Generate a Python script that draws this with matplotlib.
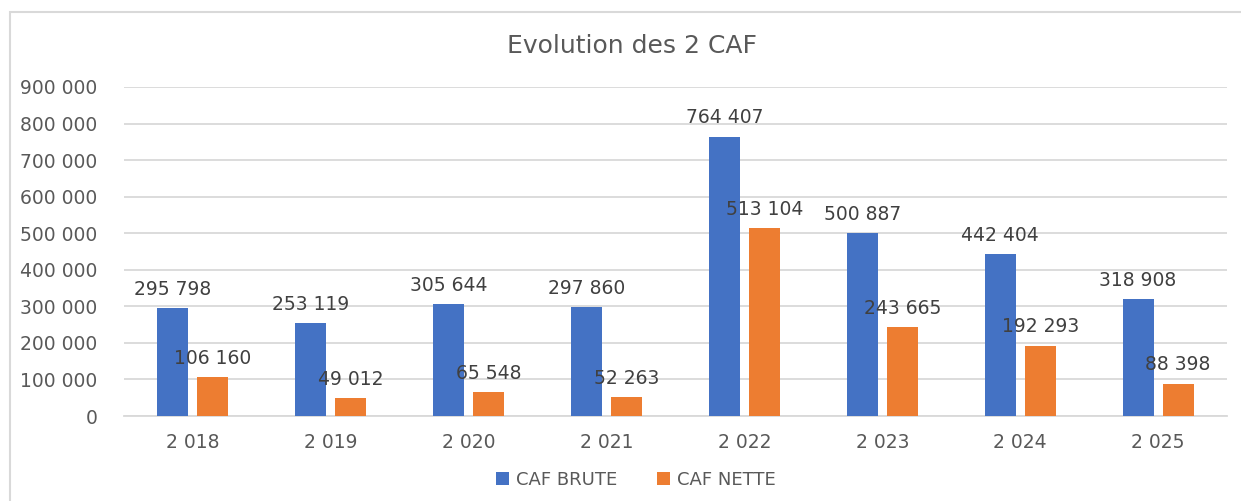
import matplotlib
matplotlib.use("Agg")
import matplotlib.pyplot as plt
from matplotlib.patches import Rectangle
import numpy as np

years = ["2 018", "2 019", "2 020", "2 021", "2 022", "2 023", "2 024", "2 025"]
caf_brute = [295798, 253119, 305644, 297860, 764407, 500887, 442404, 318908]
caf_nette = [106160, 49012, 65548, 52263, 513104, 243665, 192293, 88398]
yticks = list(range(0, 900001, 100000))

BLUE = "#4472C4"
ORANGE = "#ED7D31"
GRID = "#D9D9D9"
TXT = "#595959"
LBL = "#404040"

plt.rcParams['font.family'] = ['DejaVu Sans']

def fmt(v):
    return f"{v:,}".replace(",", " ")

fig = plt.figure(figsize=(12.41, 5.01), dpi=100)
ax = fig.add_axes([124/1241, 1-416/501, (1227-124)/1241, (416-87)/501])

x = np.arange(len(years))
w = 0.225
off = 0.145
b1 = ax.bar(x - off, caf_brute, width=w, color=BLUE, label="CAF BRUTE", zorder=3)
b2 = ax.bar(x + off, caf_nette, width=w, color=ORANGE, label="CAF NETTE", zorder=3)

for bars, vals in ((b1, caf_brute), (b2, caf_nette)):
    for r, v in zip(bars, vals):
        ax.annotate(fmt(v), (r.get_x() + r.get_width()/2, v), xytext=(0, 13.5),
                    textcoords="offset points", ha="center", va="center",
                    fontsize=13.5, color=LBL, zorder=4)

ax.set_xlim(-0.5, 7.5)
ax.set_ylim(0, 900000)
ax.set_yticks(yticks)
ax.set_yticklabels([fmt(v) for v in yticks])
ax.set_xticks(x)
ax.set_xticklabels(years)
ax.tick_params(axis="both", length=0, labelsize=13.5, labelcolor=TXT)
ax.tick_params(axis="y", pad=19)
ax.tick_params(axis="x", pad=12)
ax.grid(axis="y", color=GRID, linewidth=1.3, zorder=0)
for s in ["top", "right", "left"]:
    ax.spines[s].set_visible(False)
ax.spines["bottom"].set_color(GRID)
ax.spines["bottom"].set_linewidth(1.3)

fig.text(632/1241, 1-46/501, "Evolution des 2 CAF", ha="center", va="center",
         fontsize=18, color=TXT)

fig.legend(handles=[b1, b2], labels=["CAF BRUTE", "CAF NETTE"], loc="center",
           bbox_to_anchor=(636/1241, 1-480/501), ncol=2, frameon=False,
           fontsize=13, labelcolor=TXT, handlelength=0.7, handleheight=0.7,
           handletextpad=0.4, columnspacing=2.2)

fig.patches.append(Rectangle((10/1241, -0.1), 1.2, (1-12/501)+0.1,
                             transform=fig.transFigure, fill=False,
                             edgecolor=GRID, linewidth=1.5))

fig.savefig("out.png", dpi=100)
